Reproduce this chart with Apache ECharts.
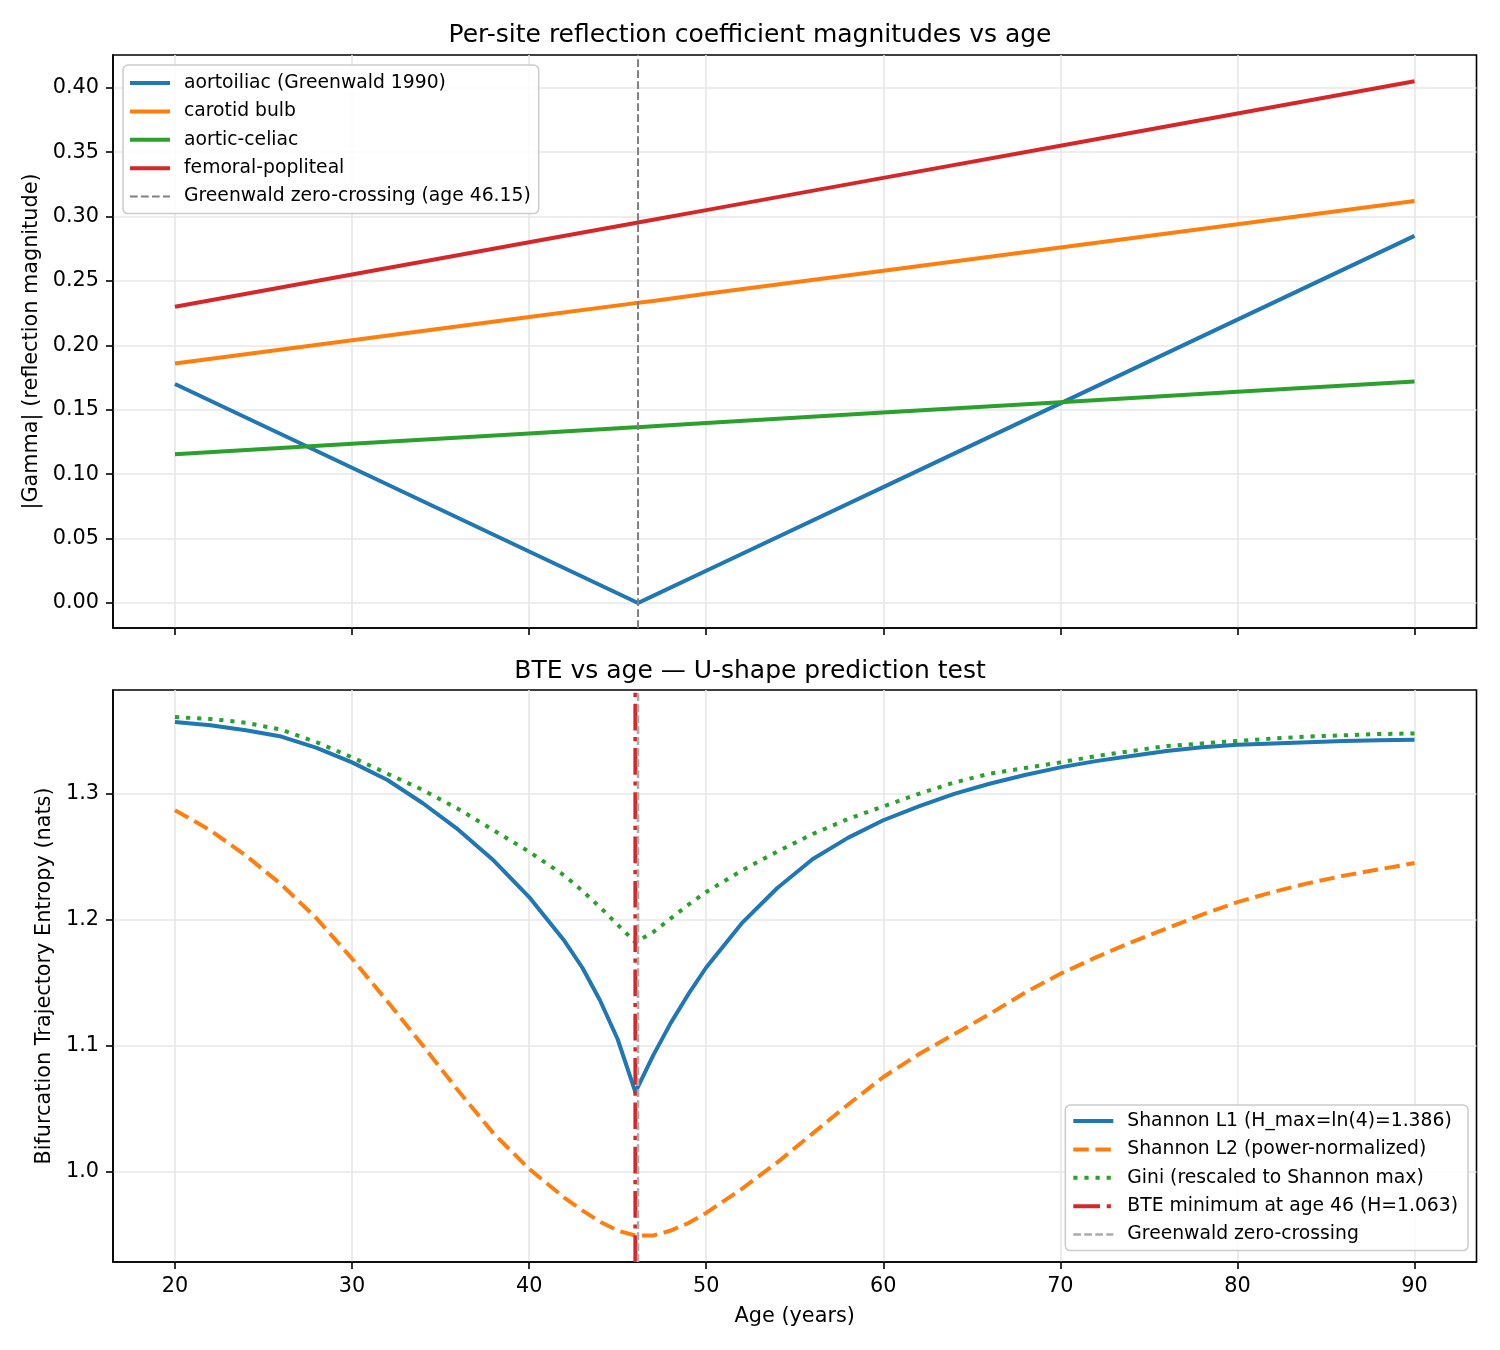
<!DOCTYPE html>
<html><head><meta charset="utf-8">
<script src="https://cdn.jsdelivr.net/npm/echarts@6/dist/echarts.min.js"></script>
<style>html,body{margin:0;padding:0;background:#fff}#c{width:1500px;height:1350px}</style>
</head><body><div id="c"></div>
<script>
// ---------- data ----------
const agesTop = [20, 30, 40, 46, 46.15, 47, 50, 60, 70, 80, 90];
const aortoiliac = [0.170, 0.105, 0.040, 0.001, 0.000, 0.0055, 0.025, 0.090, 0.155, 0.220, 0.285];
const carotidBulb = [0.186, 0.204, 0.222, 0.2328, 0.233, 0.2345, 0.240, 0.258, 0.276, 0.294, 0.312];
const aorticCeliac = [0.1155, 0.1236, 0.1316, 0.1364, 0.1365, 0.1373, 0.1397, 0.1478, 0.1558, 0.1639, 0.172];
const femoralPopliteal = [0.230, 0.255, 0.280, 0.295, 0.2954, 0.2975, 0.305, 0.330, 0.355, 0.380, 0.405];

const agesBte = [20, 22, 24, 26, 28, 30, 32, 34, 36, 38, 40, 42, 43, 44, 45, 46, 47, 48, 49, 50, 52, 54, 56, 58, 60, 62, 64, 66, 68, 70, 72, 74, 76, 78, 80, 82, 84, 86, 88, 90];
const shannonL1 = [1.357, 1.3545, 1.3505, 1.3455, 1.3365, 1.325, 1.311, 1.2925, 1.2715, 1.247, 1.218, 1.183, 1.162, 1.136, 1.105, 1.063, 1.092, 1.118, 1.141, 1.162, 1.197, 1.225, 1.248, 1.265, 1.279, 1.290, 1.300, 1.308, 1.315, 1.321, 1.326, 1.330, 1.334, 1.337, 1.339, 1.340, 1.341, 1.342, 1.3425, 1.343];
const shannonL2 = [1.287, 1.271, 1.251, 1.228, 1.201, 1.169, 1.135, 1.100, 1.064, 1.030, 1.002, 0.979, 0.969, 0.960, 0.953, 0.949, 0.949, 0.953, 0.959, 0.967, 0.986, 1.007, 1.030, 1.053, 1.075, 1.093, 1.109, 1.125, 1.142, 1.157, 1.170, 1.182, 1.193, 1.204, 1.214, 1.222, 1.229, 1.235, 1.240, 1.245];
const giniRescaled = [1.361, 1.3595, 1.3565, 1.351, 1.341, 1.329, 1.316, 1.303, 1.288, 1.271, 1.254, 1.235, 1.223, 1.210, 1.196, 1.182, 1.190, 1.201, 1.212, 1.222, 1.239, 1.254, 1.268, 1.280, 1.290, 1.300, 1.309, 1.316, 1.3205, 1.325, 1.330, 1.334, 1.338, 1.340, 1.342, 1.344, 1.3455, 1.3465, 1.3475, 1.348];

const greenwaldZeroAge = 46.15;
const bteMinAge = 46;

const xTicks = [20, 30, 40, 50, 60, 70, 80, 90];
const yTicksTop = [0, 0.05, 0.10, 0.15, 0.20, 0.25, 0.30, 0.35, 0.40];
const yTicksBottom = [1.0, 1.1, 1.2, 1.3];

const xRange = [16.5, 93.5];
const yRangeTop = [-0.0194, 0.4254];
const yRangeBottom = [0.928, 1.3825];

// ---------- helpers ----------
const FONT = 'DejaVu Sans';
const zip = (xs, ys) => xs.map((x, i) => [x, ys[i]]);
const C = { blue: '#1f77b4', orange: '#ff7f0e', green: '#2ca02c', red: '#d62728' };
const LW = 4;

function xAxisCfg(gi, showLabels) {
  return {
    type: 'value', gridIndex: gi, min: xRange[0], max: xRange[1], splitNumber: 8,
    axisLine: { show: true, onZero: false, lineStyle: { color: '#000', width: 1.6 } },
    axisTick: { show: true, inside: false, length: 7, customValues: xTicks, lineStyle: { color: '#000', width: 1.6 } },
    axisLabel: { show: showLabels, customValues: xTicks, margin: 14, fontSize: 20.8, fontFamily: FONT, color: '#000' },
    splitLine: { show: true, lineStyle: { color: '#e7e7e7', width: 1.6 } },
    name: showLabels ? 'Age (years)' : '', nameLocation: 'middle', nameGap: 44,
    nameTextStyle: { fontSize: 20.8, fontFamily: FONT, color: '#000' }
  };
}
function yAxisCfg(gi, range, ticks, split, digits, name, gap) {
  return {
    type: 'value', gridIndex: gi, min: range[0], max: range[1], splitNumber: split,
    axisLine: { show: true, onZero: false, lineStyle: { color: '#000', width: 1.6 } },
    axisTick: { show: true, inside: false, length: 7, customValues: ticks, lineStyle: { color: '#000', width: 1.6 } },
    axisLabel: { show: true, customValues: ticks, margin: 14, fontSize: 20.8, fontFamily: FONT, color: '#000',
      formatter: v => Number(v).toFixed(digits) },
    splitLine: { show: true, lineStyle: { color: '#e7e7e7', width: 1.6 } },
    name: name, nameLocation: 'middle', nameGap: gap,
    nameTextStyle: { fontSize: 20.8, fontFamily: FONT, color: '#000' }
  };
}
function lineSeries(name, gi, xs, ys, color, type) {
  return {
    type: 'line', name: name, xAxisIndex: gi, yAxisIndex: gi, data: zip(xs, ys),
    symbol: 'none', showSymbol: false, animation: false, smooth: false,
    lineStyle: { color: color, width: LW, type: type || 'solid', cap: 'butt', join: 'round' },
    itemStyle: { color: color }
  };
}
function vline(name, gi, xVal, range, color, width, type) {
  return {
    type: 'line', name: name, xAxisIndex: gi, yAxisIndex: gi,
    data: [[xVal, range[0]], [xVal, range[1]]],
    symbol: 'none', showSymbol: false, animation: false,
    lineStyle: { color: color, width: width, type: type, cap: 'butt' },
    itemStyle: { color: color }
  };
}
const legendBase = {
  orient: 'vertical', itemWidth: 40, itemHeight: 14, itemGap: 8.4,
  backgroundColor: 'rgba(255,255,255,0.85)', borderColor: '#cccccc', borderWidth: 1.5, borderRadius: 5,
  itemStyle: { opacity: 0, borderWidth: 0 },
  textStyle: { fontSize: 18.75, fontFamily: FONT, color: '#000', lineHeight: 20, padding: [0, 0, 0, 9] }
};

const topNames = ['aortoiliac (Greenwald 1990)', 'carotid bulb', 'aortic-celiac', 'femoral-popliteal', 'Greenwald zero-crossing (age 46.15)'];
const topWidths = [LW, LW, LW, LW, 2];
const botNames = ['Shannon L1 (H_max=ln(4)=1.386)', 'Shannon L2 (power-normalized)', 'Gini (rescaled to Shannon max)', 'BTE minimum at age 46 (H=1.063)', 'Greenwald zero-crossing'];
const botWidths = [LW, LW, LW, LW, 2.5];
const legendData = (names, widths) => names.map((n, i) => ({ name: n, lineStyle: { width: widths[i] }, itemStyle: { opacity: 0 } }));

const option = {
  backgroundColor: '#fff',
  animation: false,
  textStyle: { fontFamily: FONT },
  title: [
    { text: 'Per-site reflection coefficient magnitudes vs age', left: 'center', top: 23, padding: [0, 0, 0, 90],
      textStyle: { fontSize: 25, fontWeight: 'normal', fontFamily: FONT, color: '#000' } },
    { text: 'BTE vs age \u2014 U-shape prediction test', left: 'center', top: 659, padding: [0, 0, 0, 90],
      textStyle: { fontSize: 25, fontWeight: 'normal', fontFamily: FONT, color: '#000' } }
  ],
  grid: [
    { left: 113, right: 23.5, top: 55, height: 573, show: true, borderColor: '#000', borderWidth: 1.6, backgroundColor: 'transparent' },
    { left: 113, right: 23.5, top: 690, height: 572, show: true, borderColor: '#000', borderWidth: 1.6, backgroundColor: 'transparent' }
  ],
  xAxis: [xAxisCfg(0, false), xAxisCfg(1, true)],
  yAxis: [
    yAxisCfg(0, yRangeTop, yTicksTop, 9, 2, '|Gamma| (reflection magnitude)', 68),
    yAxisCfg(1, yRangeBottom, yTicksBottom, 4, 1, 'Bifurcation Trajectory Entropy (nats)', 54)
  ],
  legend: [
    Object.assign({}, legendBase, { left: 123, top: 65, padding: [8, 8, 7, 5], data: legendData(topNames, topWidths) }),
    Object.assign({}, legendBase, { right: 32, top: 1105, padding: [6, 10, 6, 6], data: legendData(botNames, botWidths) })
  ],
  series: [
    lineSeries(topNames[0], 0, agesTop, aortoiliac, C.blue),
    lineSeries(topNames[1], 0, agesTop, carotidBulb, C.orange),
    lineSeries(topNames[2], 0, agesTop, aorticCeliac, C.green),
    lineSeries(topNames[3], 0, agesTop, femoralPopliteal, C.red),
    vline(topNames[4], 0, greenwaldZeroAge, yRangeTop, '#808080', 2, [7.7, 3.3]),
    lineSeries(botNames[0], 1, agesBte, shannonL1, C.blue),
    lineSeries(botNames[1], 1, agesBte, shannonL2, C.orange, [15.4, 6.7]),
    lineSeries(botNames[2], 1, agesBte, giniRescaled, C.green, [4.2, 6.9]),
    vline(botNames[3], 1, bteMinAge, yRangeBottom, C.red, 4, [26.7, 6.7, 4.2, 6.7]),
    vline(botNames[4], 1, greenwaldZeroAge, yRangeBottom, '#ababab', 2.5, [7.7, 3.3])
  ]
};
const chart = echarts.init(document.getElementById('c'), null, { renderer: 'canvas' });
chart.setOption(option);
</script></body></html>
